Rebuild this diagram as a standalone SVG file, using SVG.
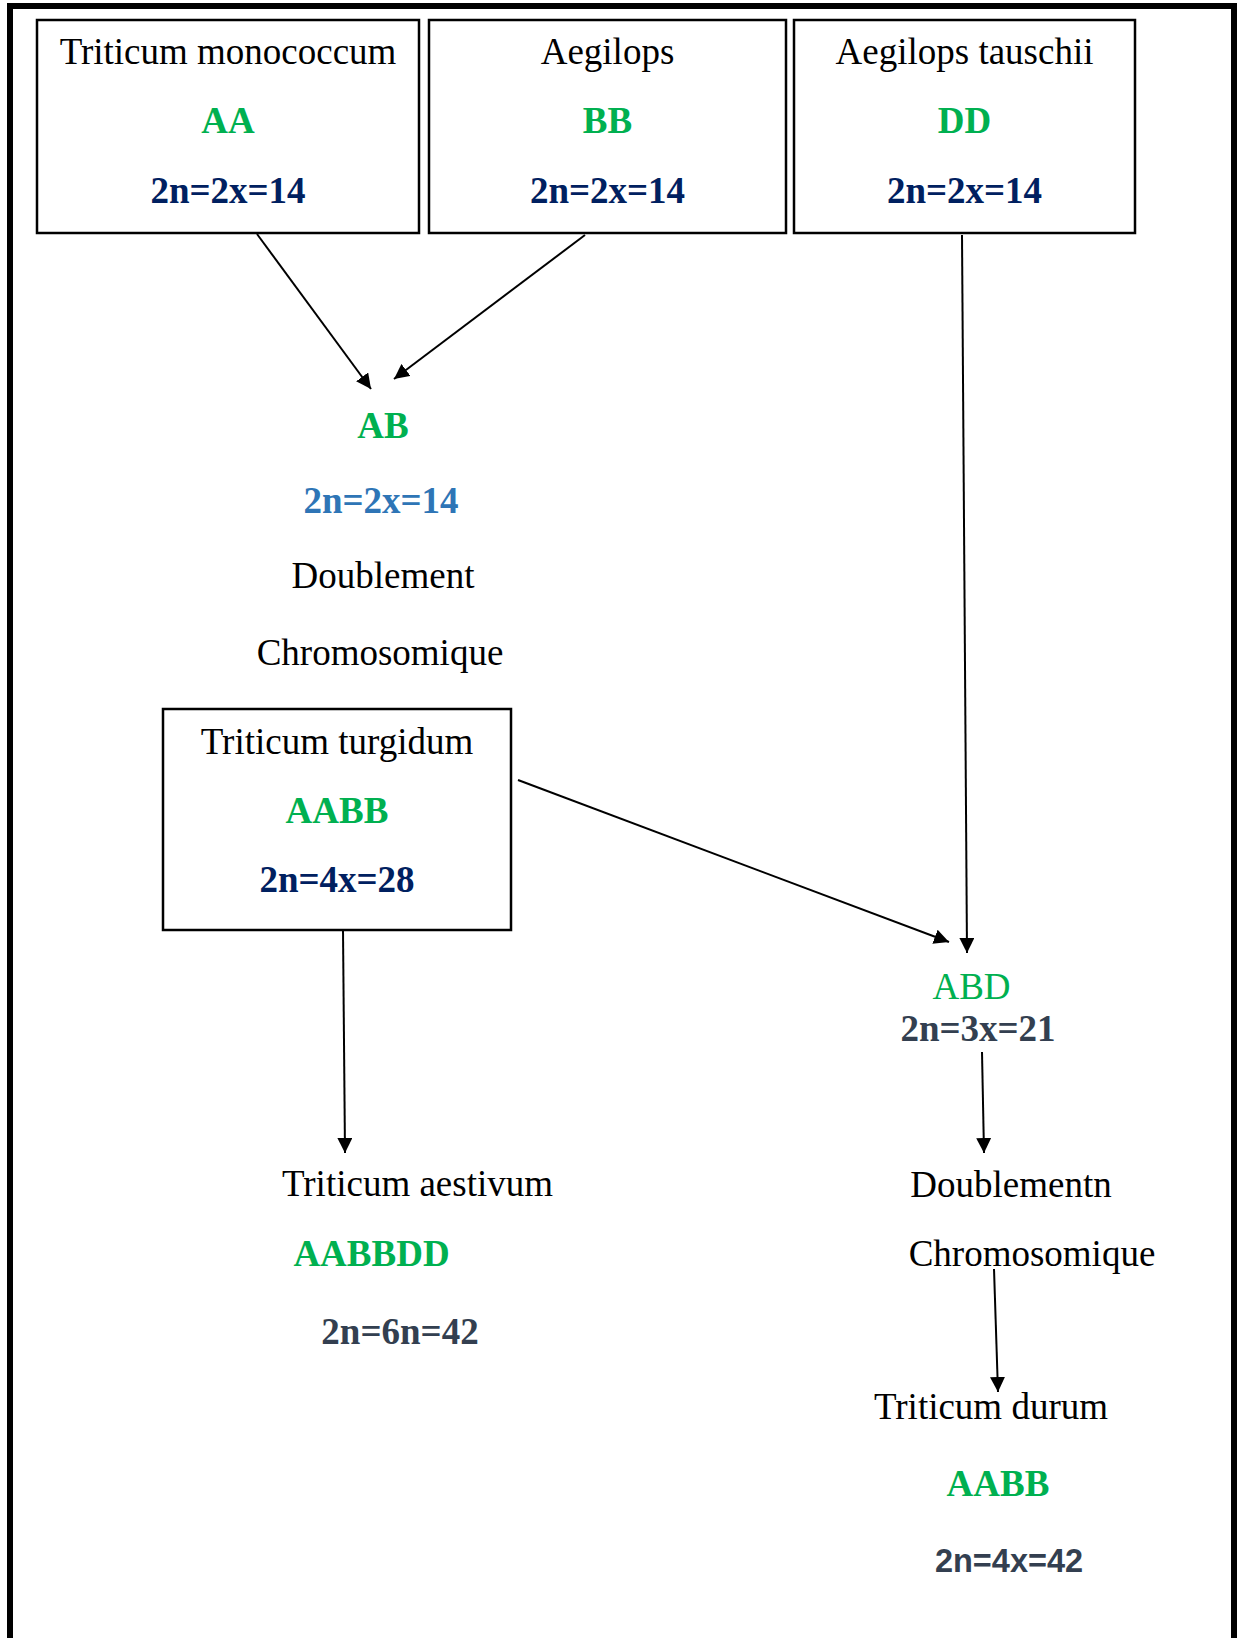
<svg xmlns="http://www.w3.org/2000/svg" width="1239" height="1638" viewBox="0 0 1239 1638">
<style>
text{font-family:"Liberation Serif","Times New Roman",serif;font-size:37px;text-anchor:middle;fill:#000}
.b{font-weight:bold}
.g{fill:#00B050}
.n{fill:#002060}
.bl{fill:#2E75B6}
.s{fill:#333F50}
.sans{font-family:"Liberation Sans",Arial,sans-serif;font-size:32.5px}
.box{fill:#fff;stroke:#000;stroke-width:2.5}
.c line{stroke:#000;stroke-width:2;marker-end:url(#ah)}
</style>
<defs>
<marker id="ah" viewBox="0 0 15 15" markerWidth="15" markerHeight="15" refX="15" refY="7.5" orient="auto" markerUnits="userSpaceOnUse">
<path d="M0,0 L15,7.5 L0,15 z" fill="#000"/>
</marker>
</defs>
<rect x="0" y="0" width="1239" height="1638" fill="#fff"/>
<rect x="10" y="6" width="1224" height="1650" fill="none" stroke="#000" stroke-width="6"/>
<g id="monococcum">
<rect class="box" x="37" y="20" width="382" height="213"/>
<text x="228" y="64">Triticum monococcum</text>
<text class="b g" x="228" y="133">AA</text>
<text class="b n" x="228" y="203">2n=2x=14</text>
</g>
<g id="aegilops">
<rect class="box" x="429" y="20" width="357" height="213"/>
<text x="607.5" y="64">Aegilops</text>
<text class="b g" x="607.5" y="133">BB</text>
<text class="b n" x="607.5" y="203">2n=2x=14</text>
</g>
<g id="tauschii">
<rect class="box" x="794" y="20" width="341" height="213"/>
<text x="964.5" y="64">Aegilops tauschii</text>
<text class="b g" x="964.5" y="133">DD</text>
<text class="b n" x="964.5" y="203">2n=2x=14</text>
</g>
<g id="ab">
<text class="b g" x="383" y="438">AB</text>
<text class="b bl" x="381" y="513">2n=2x=14</text>
<text x="383" y="588">Doublement</text>
<text x="380" y="665">Chromosomique</text>
</g>
<g id="turgidum">
<rect class="box" x="163" y="709" width="348" height="221"/>
<text x="337" y="754">Triticum turgidum</text>
<text class="b g" x="337" y="823">AABB</text>
<text class="b n" x="337" y="892">2n=4x=28</text>
</g>
<g id="abd">
<text class="g" x="971.5" y="999">ABD</text>
<text class="b s" x="978" y="1041">2n=3x=21</text>
</g>
<g id="doublement2">
<text x="1011" y="1197">Doublementn</text>
<text x="1032" y="1266">Chromosomique</text>
</g>
<g id="aestivum">
<text x="417.5" y="1196">Triticum aestivum</text>
<text class="b g" x="371.5" y="1266">AABBDD</text>
<text class="b s" x="400" y="1344">2n=6n=42</text>
</g>
<g id="durum">
<text x="991" y="1419">Triticum durum</text>
<text class="b g" x="998" y="1496">AABB</text>
<text class="b s sans" x="1009" y="1572">2n=4x=42</text>
</g>
<g class="c" id="connectors">
<line x1="257" y1="234" x2="371" y2="389"/>
<line x1="585" y1="235" x2="394" y2="379"/>
<line x1="962" y1="235" x2="967" y2="953"/>
<line x1="518" y1="780" x2="949" y2="942"/>
<line x1="343" y1="930" x2="345" y2="1153"/>
<line x1="982" y1="1052" x2="984" y2="1153"/>
<line x1="994" y1="1269" x2="998" y2="1392"/>
</g>
</svg>
